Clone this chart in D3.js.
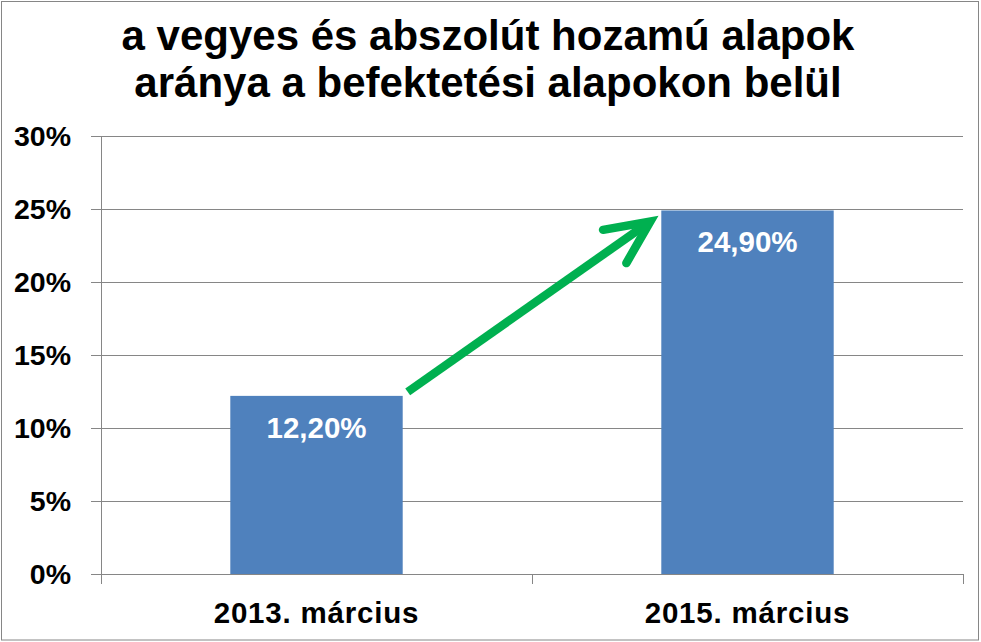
<!DOCTYPE html>
<html><head><meta charset="utf-8">
<script src="https://cdn.jsdelivr.net/npm/d3@7"></script>
<style>
body{margin:0;background:#fff;}
svg{display:block;font-family:"Liberation Sans",Arial,sans-serif;font-weight:bold;}
</style></head><body>
<svg id="c" width="981" height="642"></svg>
<script>
const titleLines = ["a vegyes és abszolút hozamú alapok", "aránya a befektetési alapokon belül"];
const categories = ["2013. március", "2015. március"];
const values = [12.2, 24.9];
const valueLabels = ["12,20%", "24,90%"];
const yTicks = [0, 5, 10, 15, 20, 25, 30];
const yTickLabels = ["0%", "5%", "10%", "15%", "20%", "25%", "30%"];

const svg = d3.select("#c");
const W = 981, H = 642;
const m = {left: 101, right: 963, top: 136, bottom: 574};
const gray = "#868686";

svg.append("rect").attr("x", 1.5).attr("y", 1.5).attr("width", 977).attr("height", 638.5)
  .attr("fill", "#fff").attr("stroke", gray).attr("stroke-width", 1);

const x = d3.scaleBand().domain(categories).range([m.left, m.right]).paddingInner(0.6).paddingOuter(0.3);
const y = d3.scaleLinear().domain([0, 30]).range([m.bottom, m.top]);

// title
svg.append("text").attr("x", 488).attr("text-anchor", "middle").attr("font-size", 42).attr("fill", "#000")
  .selectAll("tspan").data(titleLines).join("tspan")
  .attr("x", 488).attr("y", (d, i) => 50 + i * 46.5).text(d => d);

// gridlines + y ticks
svg.append("g").selectAll("line").data(yTicks).join("line")
  .attr("x1", m.left - 10).attr("x2", m.right)
  .attr("y1", d => Math.round(y(d)) + 0.5).attr("y2", d => Math.round(y(d)) + 0.5)
  .attr("stroke", gray).attr("stroke-width", 1);

svg.append("g").selectAll("text").data(yTicks).join("text")
  .attr("x", 71).attr("y", d => y(d) + 10).attr("text-anchor", "end")
  .attr("font-size", 28.5).attr("fill", "#000").text((d, i) => yTickLabels[i]);

// y axis line
svg.append("line").attr("x1", m.left + 0.5).attr("x2", m.left + 0.5)
  .attr("y1", m.top).attr("y2", m.bottom + 10).attr("stroke", gray);

// x category ticks
const xTicks = [m.left, m.left + (m.right - m.left) / 2, m.right];
svg.append("g").selectAll("line").data(xTicks).join("line")
  .attr("x1", d => Math.round(d) + 0.5).attr("x2", d => Math.round(d) + 0.5)
  .attr("y1", m.bottom).attr("y2", m.bottom + 10).attr("stroke", gray);

// bars
svg.append("g").selectAll("rect").data(values).join("rect")
  .attr("x", (d, i) => x(categories[i])).attr("width", x.bandwidth())
  .attr("y", d => y(d)).attr("height", d => y(0) - y(d))
  .attr("fill", "#4F81BD");

// value labels
svg.append("g").selectAll("text").data(values).join("text")
  .attr("x", (d, i) => x(categories[i]) + x.bandwidth() / 2)
  .attr("y", d => y(d) + 42).attr("text-anchor", "middle")
  .attr("font-size", 29.5).attr("fill", "#fff").text((d, i) => valueLabels[i]);

// category labels
svg.append("g").selectAll("text").data(categories).join("text")
  .attr("x", d => x(d) + x.bandwidth() / 2).attr("y", 623).attr("text-anchor", "middle")
  .attr("font-size", 29.5).attr("letter-spacing", 0.8).attr("fill", "#000").text(d => d);

// arrow from bar 1 to bar 2
const sx = x(categories[0]) + x.bandwidth() + 5, sy = y(values[0]) - 4;
const ex = x(categories[1]) - 11, ey = y(values[1]) + 11;
const ang = Math.atan2(ey - sy, ex - sx);
const green = "#00B050";
const back = ang + Math.PI;
const bl = 48, spread = 25 * Math.PI / 180;
svg.append("line").attr("x1", sx).attr("y1", sy)
  .attr("x2", ex - 4 * Math.cos(ang)).attr("y2", ey - 4 * Math.sin(ang))
  .attr("stroke", green).attr("stroke-width", 8.5).attr("stroke-linecap", "butt");
const p1 = [ex + bl * Math.cos(back + spread), ey + bl * Math.sin(back + spread)];
const p2 = [ex + bl * Math.cos(back - spread), ey + bl * Math.sin(back - spread)];
svg.append("path").attr("d", `M${p1[0]},${p1[1]}L${ex},${ey}L${p2[0]},${p2[1]}`)
  .attr("fill", "none").attr("stroke", green).attr("stroke-width", 8.5)
  .attr("stroke-linecap", "round").attr("stroke-linejoin", "miter").attr("stroke-miterlimit", 10);
</script></body></html>
